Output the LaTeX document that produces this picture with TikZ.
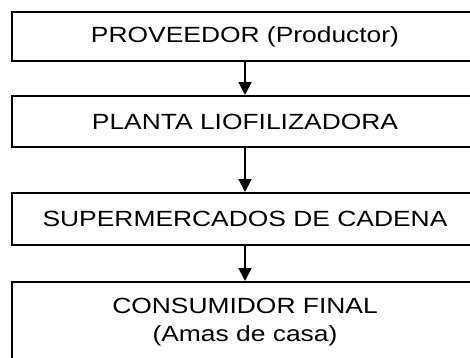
\documentclass[tikz,border=0pt]{standalone}
\usepackage{fontspec}
\setmainfont[FakeStretch=1.2]{Liberation Sans}
\usetikzlibrary{arrows.meta}
\begin{document}
\begin{tikzpicture}[x=1pt, y=-1pt,
    stagebox/.style={draw, line width=2pt, minimum width=466pt, inner sep=0pt,
        align=center, font=\fontsize{22}{28}\selectfont},
    flowarrow/.style={line width=1.8pt, -{Triangle[width=13pt,length=13pt]}}]
    % Fix the page size
    \useasboundingbox (0,0) rectangle (470,357);
    \clip (0,0) rectangle (470,357);
    \fill[white] (0,0) rectangle (470,357);

    % Draw the boxes
    \node[stagebox, minimum height=49pt] (prov) at (245,36.5) {PROVEEDOR (Productor)};
    \node[stagebox, minimum height=51pt] (planta) at (245,121.5) {PLANTA LIOFILIZADORA};
    \node[stagebox, minimum height=52pt] (super) at (245,219) {SUPERMERCADOS DE CADENA};
    \node[stagebox, minimum height=80pt] (cons) at (245,322) {CONSUMIDOR FINAL\\(Amas de casa)};

    % Draw the arrows
    \draw[flowarrow] (prov.south) -- (planta.north);
    \draw[flowarrow] (planta.south) -- (super.north);
    \draw[flowarrow] (super.south) -- (cons.north);
\end{tikzpicture}
\end{document}
